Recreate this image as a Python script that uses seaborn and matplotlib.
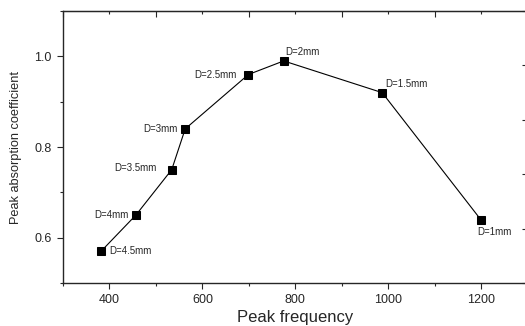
import matplotlib
matplotlib.use('Agg')
import matplotlib.pyplot as plt
from matplotlib.ticker import MultipleLocator, NullFormatter
import seaborn as sns
import pandas as pd

# peak frequency / peak absorption for each hole diameter
labels = ['D=4.5mm', 'D=4mm', 'D=3.5mm', 'D=3mm', 'D=2.5mm', 'D=2mm', 'D=1.5mm', 'D=1mm']
freq = [382, 457, 534, 563, 699, 775, 987, 1199]
alpha = [0.57, 0.65, 0.75, 0.84, 0.96, 0.99, 0.92, 0.64]

df = pd.DataFrame({'freq': freq, 'alpha': alpha, 'label': labels})

sns.set_style('ticks')
plt.rcParams['font.family'] = ['Liberation Sans', 'DejaVu Sans']

fig = plt.figure(figsize=(5.25, 3.26), dpi=100)
ax = fig.add_axes([0.12, 0.132, 0.885, 0.834])

sns.lineplot(data=df, x='freq', y='alpha', marker='s', color='black', linewidth=0.8,
             markersize=6, markeredgecolor='black', sort=False, ax=ax)

# label offsets in pixels (dx, dy, ha)
offs = {
    'D=4.5mm': (8, 0, 'left'),
    'D=4mm': (-7, 0, 'right'),
    'D=3.5mm': (-15, 2, 'right'),
    'D=3mm': (-8, 0, 'right'),
    'D=2.5mm': (-12, 0, 'right'),
    'D=2mm': (2, 9, 'left'),
    'D=1.5mm': (3, 9, 'left'),
    'D=1mm': (-3, -12, 'left'),
}
for _, r in df.iterrows():
    dx, dy, ha = offs[r['label']]
    ax.annotate(r['label'], (r['freq'], r['alpha']), xytext=(dx, dy),
                textcoords='offset pixels', ha=ha, va='center', fontsize=7)

ax.set_xlim(300, 1300)
ax.set_ylim(0.5, 1.1)
ax.xaxis.set_minor_locator(MultipleLocator(100))
ax.yaxis.set_minor_locator(MultipleLocator(0.1))
ax.set_xticks([400, 600, 800, 1000, 1200])
ax.set_yticks([0.6, 0.8, 1.0])
ax.tick_params(which='major', direction='out', length=4.5, width=0.8, labelsize=9, pad=3.5)
ax.tick_params(which='minor', direction='out', length=2, width=0.8)

ax.set_xlabel('Peak frequency', fontsize=12, labelpad=3)
ax.set_ylabel('Peak absorption coefficient', fontsize=9.2, labelpad=9)

for s in ax.spines.values():
    s.set_linewidth(1.0)
    s.set_visible(True)

# extra tick-only axes on top and right
top = ax.secondary_xaxis('top')
top.xaxis.set_major_locator(MultipleLocator(200, offset=100))
top.xaxis.set_minor_locator(MultipleLocator(100))
top.xaxis.set_major_formatter(NullFormatter())
top.tick_params(which='major', direction='in', length=4, width=0.8)
top.tick_params(which='minor', direction='in', length=2, width=0.8)

right = ax.secondary_yaxis('right', functions=(lambda y: (y - 0.5) / 0.6,
                                                lambda u: 0.5 + 0.6 * u))
right.yaxis.set_major_locator(MultipleLocator(0.2))
right.yaxis.set_minor_locator(MultipleLocator(0.1))
right.yaxis.set_major_formatter(NullFormatter())
right.tick_params(which='major', direction='in', length=4, width=0.8)
right.tick_params(which='minor', direction='in', length=2, width=0.6)

fig.savefig('out.png', dpi=100)
